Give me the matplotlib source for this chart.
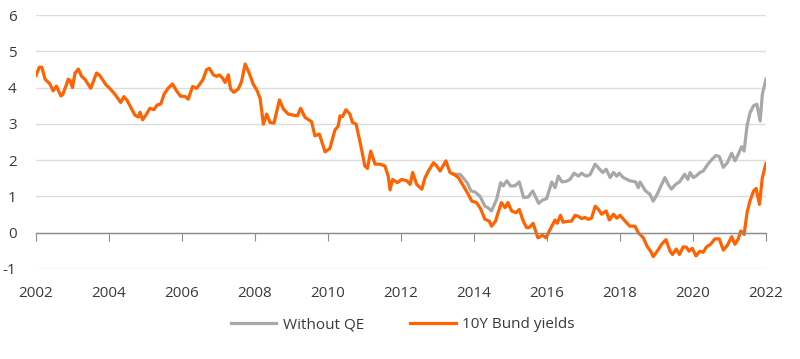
import matplotlib
matplotlib.use("Agg")
import matplotlib.pyplot as plt

plt.rcParams['font.family'] = ['Open Sans', 'DejaVu Sans']

bund_dates = [2002.00, 2002.09, 2002.16, 2002.25, 2002.38, 2002.47, 2002.56, 2002.68, 2002.73, 2002.84,
              2002.88, 2002.93, 2003.00, 2003.07, 2003.16, 2003.25, 2003.34, 2003.50, 2003.66, 2003.75,
              2003.92, 2004.00, 2004.16, 2004.32, 2004.41, 2004.50, 2004.62, 2004.71, 2004.80, 2004.85,
              2004.92, 2005.03, 2005.12, 2005.23, 2005.32, 2005.42, 2005.51, 2005.62, 2005.74, 2005.85,
              2005.96, 2006.08, 2006.17, 2006.29, 2006.40, 2006.47, 2006.58, 2006.67, 2006.75, 2006.86,
              2006.95, 2007.02, 2007.12, 2007.18, 2007.27, 2007.33, 2007.42, 2007.54, 2007.63, 2007.73,
              2007.84, 2007.95, 2008.06, 2008.14, 2008.23, 2008.32, 2008.41, 2008.52, 2008.67, 2008.78,
              2008.91, 2009.05, 2009.16, 2009.25, 2009.37, 2009.55, 2009.64, 2009.76, 2009.92, 2010.05,
              2010.19, 2010.28, 2010.33, 2010.40, 2010.49, 2010.60, 2010.67, 2010.77, 2010.88, 2011.01,
              2011.08, 2011.17, 2011.29, 2011.42, 2011.56, 2011.65, 2011.70, 2011.77, 2011.90, 2012.02,
              2012.16, 2012.25, 2012.32, 2012.43, 2012.57, 2012.66, 2012.75, 2012.89, 2012.98, 2013.07,
              2013.23, 2013.34, 2013.45, 2013.57, 2013.71, 2013.84, 2013.94, 2014.07, 2014.18, 2014.30,
              2014.42, 2014.48, 2014.59, 2014.66, 2014.75, 2014.85, 2014.93, 2015.03, 2015.15, 2015.24,
              2015.35, 2015.44, 2015.51, 2015.62, 2015.75, 2015.88, 2015.97, 2016.13, 2016.22, 2016.28,
              2016.37, 2016.44, 2016.54, 2016.67, 2016.77, 2016.86, 2016.95, 2017.04, 2017.13, 2017.22,
              2017.32, 2017.41, 2017.50, 2017.62, 2017.71, 2017.82, 2017.91, 2018.00, 2018.14, 2018.27,
              2018.41, 2018.50, 2018.64, 2018.75, 2018.84, 2018.91, 2019.02, 2019.14, 2019.26, 2019.37,
              2019.44, 2019.54, 2019.63, 2019.73, 2019.82, 2019.89, 2019.98, 2020.08, 2020.19, 2020.28,
              2020.37, 2020.48, 2020.60, 2020.72, 2020.83, 2020.94, 2021.06, 2021.15, 2021.24, 2021.31,
              2021.40, 2021.48, 2021.56, 2021.66, 2021.73, 2021.82, 2021.90, 2022.00]
bund_yields = [4.33, 4.56, 4.56, 4.23, 4.10, 3.91, 4.04, 3.77, 3.80, 4.10,
               4.23, 4.20, 4.00, 4.40, 4.51, 4.31, 4.23, 3.98, 4.40, 4.33,
               4.07, 4.00, 3.82, 3.59, 3.75, 3.64, 3.41, 3.24, 3.19, 3.32,
               3.11, 3.27, 3.43, 3.39, 3.52, 3.55, 3.82, 3.98, 4.10, 3.91,
               3.76, 3.76, 3.68, 4.03, 3.98, 4.07, 4.23, 4.49, 4.53, 4.35,
               4.31, 4.35, 4.25, 4.14, 4.35, 3.96, 3.87, 3.96, 4.16, 4.65,
               4.40, 4.10, 3.91, 3.70, 2.99, 3.27, 3.04, 3.02, 3.66, 3.41,
               3.27, 3.24, 3.22, 3.43, 3.18, 3.06, 2.67, 2.72, 2.23, 2.32,
               2.83, 2.94, 3.22, 3.20, 3.39, 3.27, 3.04, 2.99, 2.49, 1.84,
               1.77, 2.25, 1.89, 1.89, 1.84, 1.56, 1.18, 1.47, 1.38, 1.47,
               1.43, 1.33, 1.66, 1.33, 1.20, 1.52, 1.70, 1.93, 1.84, 1.70,
               1.98, 1.66, 1.61, 1.52, 1.29, 1.06, 0.87, 0.83, 0.66, 0.37,
               0.32, 0.18, 0.32, 0.55, 0.83, 0.69, 0.83, 0.60, 0.55, 0.64,
               0.32, 0.14, 0.14, 0.26, -0.14, -0.07, -0.14, 0.18, 0.35, 0.26,
               0.48, 0.29, 0.31, 0.32, 0.48, 0.45, 0.39, 0.42, 0.37, 0.40,
               0.73, 0.64, 0.51, 0.60, 0.35, 0.51, 0.40, 0.48, 0.32, 0.18,
               0.18, 0.00, -0.14, -0.39, -0.51, -0.66, -0.51, -0.32, -0.19, -0.51,
               -0.60, -0.45, -0.60, -0.39, -0.40, -0.51, -0.43, -0.64, -0.51, -0.54,
               -0.39, -0.32, -0.17, -0.17, -0.48, -0.35, -0.11, -0.32, -0.17, 0.05,
               -0.05, 0.55, 0.87, 1.15, 1.22, 0.78, 1.52, 1.91]

noqe_dates = [2013.45, 2013.62, 2013.81, 2013.92, 2014.03, 2014.16, 2014.30, 2014.38, 2014.48, 2014.62,
              2014.73, 2014.80, 2014.90, 2015.00, 2015.12, 2015.24, 2015.36, 2015.48, 2015.61, 2015.77,
              2015.88, 2015.99, 2016.13, 2016.22, 2016.31, 2016.41, 2016.54, 2016.63, 2016.74, 2016.86,
              2016.95, 2017.07, 2017.18, 2017.32, 2017.44, 2017.53, 2017.62, 2017.73, 2017.82, 2017.91,
              2017.98, 2018.09, 2018.27, 2018.43, 2018.50, 2018.55, 2018.70, 2018.82, 2018.91, 2019.02,
              2019.14, 2019.23, 2019.32, 2019.41, 2019.52, 2019.63, 2019.77, 2019.86, 2019.92, 2020.01,
              2020.08, 2020.19, 2020.28, 2020.41, 2020.52, 2020.63, 2020.72, 2020.83, 2020.94, 2021.06,
              2021.15, 2021.24, 2021.33, 2021.40, 2021.48, 2021.56, 2021.66, 2021.75, 2021.84, 2021.90,
              2022.00]
noqe_yields = [1.61, 1.61, 1.38, 1.15, 1.12, 1.01, 0.73, 0.69, 0.60, 0.92,
               1.38, 1.29, 1.43, 1.29, 1.29, 1.40, 0.97, 0.98, 1.15, 0.81,
               0.90, 0.94, 1.40, 1.24, 1.56, 1.40, 1.42, 1.47, 1.64, 1.56,
               1.64, 1.56, 1.60, 1.89, 1.75, 1.66, 1.75, 1.52, 1.66, 1.56,
               1.64, 1.52, 1.43, 1.40, 1.24, 1.40, 1.15, 1.06, 0.87, 1.06,
               1.33, 1.52, 1.33, 1.20, 1.33, 1.40, 1.61, 1.47, 1.66, 1.52,
               1.56, 1.66, 1.70, 1.89, 2.02, 2.13, 2.10, 1.80, 1.93, 2.19,
               1.98, 2.16, 2.37, 2.25, 2.94, 3.30, 3.50, 3.54, 3.08, 3.82,
               4.23]

x_ticks = list(range(2002, 2023, 2))
y_ticks = list(range(-1, 7))

TEXT = '#3a3a3a'
ORANGE = '#FF6200'
GREY = '#A8A8A8'

fig = plt.figure(figsize=(8.0, 3.59), dpi=100)
ax = fig.add_axes([0.045, 0.2507, 0.9125, 0.7075])

ax.plot(noqe_dates, noqe_yields, color=GREY, lw=2.3, label='Without QE', solid_joinstyle='round')
ax.plot(bund_dates, bund_yields, color=ORANGE, lw=2.3, label='10Y Bund yields', solid_joinstyle='round')

ax.set_xlim(2002, 2022)
ax.set_ylim(-1, 6)
ax.set_yticks(y_ticks)
ax.set_yticklabels([str(v) for v in y_ticks])
ax.yaxis.grid(True, color='#dcdcdc', lw=1)
ax.set_axisbelow(True)
ax.tick_params(axis='y', length=0, pad=14, labelsize=11, labelcolor=TEXT)
for s in ['top', 'right', 'left']:
    ax.spines[s].set_visible(False)
ax.spines['bottom'].set_position(('data', 0))
ax.spines['bottom'].set_color('#8c8c8c')
ax.spines['bottom'].set_linewidth(1)
ax.set_xticks(x_ticks)
ax.tick_params(axis='x', direction='out', length=6, color='#8c8c8c', labelbottom=False)

sec = ax.secondary_xaxis('bottom')
sec.set_xticks(x_ticks)
sec.set_xticklabels([str(v) for v in x_ticks])
sec.tick_params(length=0, pad=12, labelsize=11, labelcolor=TEXT)
sec.spines['bottom'].set_visible(False)

fig.legend(loc='center', bbox_to_anchor=(0.503, 0.095), ncol=2, frameon=False,
           fontsize=11, handlelength=3.0, columnspacing=3.0, handletextpad=0.4,
           labelcolor=TEXT)

fig.savefig('out.png', dpi=100)
